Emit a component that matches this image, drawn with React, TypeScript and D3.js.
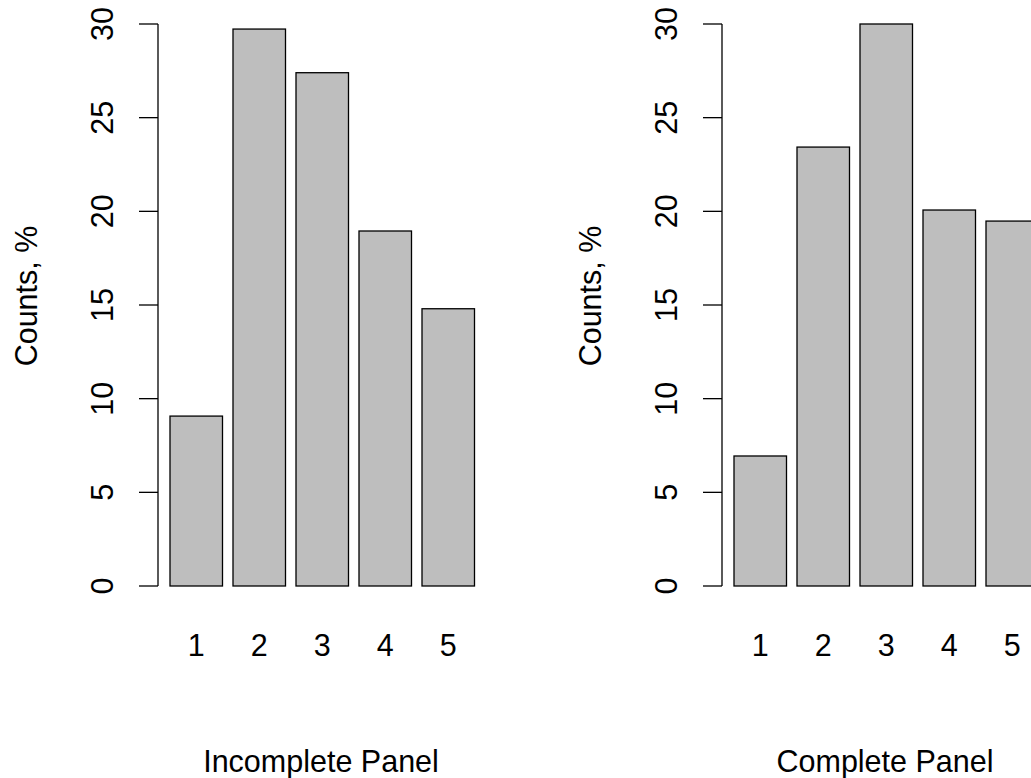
import React from 'react';
import * as d3 from 'd3';

const categories = ['1', '2', '3', '4', '5'];
const incompleteValues = [9.07, 29.73, 27.4, 18.95, 14.8];
const completeValues = [6.94, 23.43, 30.0, 20.07, 19.48];
const yTicks = [0, 5, 10, 15, 20, 25, 30];

const font = '"Liberation Sans", Arial, sans-serif';
const fs = 30.5;

const Panel = ({ values, x0, axisX, labelX, titleX, title }: { values: number[]; x0: number; axisX: number; labelX: number; titleX: number; title: string }) => {
  const y = d3.scaleLinear().domain([0, 30]).range([586, 24]);
  // R barplot units: bar i spans [0.2 + 1.2 i, 1.2 + 1.2 i]
  const x = d3.scaleLinear().domain([0.2, 1.2]).range([x0, x0 + 52.5]);
  return (
    <g>
      {values.map((v, i) => (
        <rect key={i} x={x(0.2 + 1.2 * i)} width={x(1.2) - x(0.2)} y={y(v)} height={y(0) - y(v)}
          fill="#bebebe" stroke="#000" strokeWidth={1.3} />
      ))}
      {categories.map((c, i) => (
        <text key={c} x={x(0.7 + 1.2 * i)} y={656} textAnchor="middle" fontSize={fs} fontFamily={font}>{c}</text>
      ))}
      <line x1={axisX} x2={axisX} y1={y(0)} y2={y(30)} stroke="#000" strokeWidth={1.3} />
      {yTicks.map(t => (
        <g key={t}>
          <line x1={axisX - 19} x2={axisX} y1={y(t)} y2={y(t)} stroke="#000" strokeWidth={1.3} />
          <text transform={`translate(${axisX - 45},${y(t)}) rotate(-90)`} textAnchor="middle" fontSize={fs} fontFamily={font}>{t}</text>
        </g>
      ))}
      <text transform={`translate(${labelX},296) rotate(-90)`} textAnchor="middle" fontSize={fs} fontFamily={font}>Counts, %</text>
      <text x={titleX} y={772} textAnchor="middle" fontSize={fs} fontFamily={font}>{title}</text>
    </g>
  );
};

export default function App() {
  return (
    <div style={{ position: 'fixed', left: 0, top: 0 }}>
      <svg width={1031} height={778} style={{ display: 'block', background: '#fff' }}>
        <Panel values={incompleteValues} x0={170} axisX={158} labelX={37} titleX={321} title="Incomplete Panel" />
        <Panel values={completeValues} x0={734} axisX={722} labelX={601} titleX={885} title="Complete Panel" />
      </svg>
    </div>
  );
}
